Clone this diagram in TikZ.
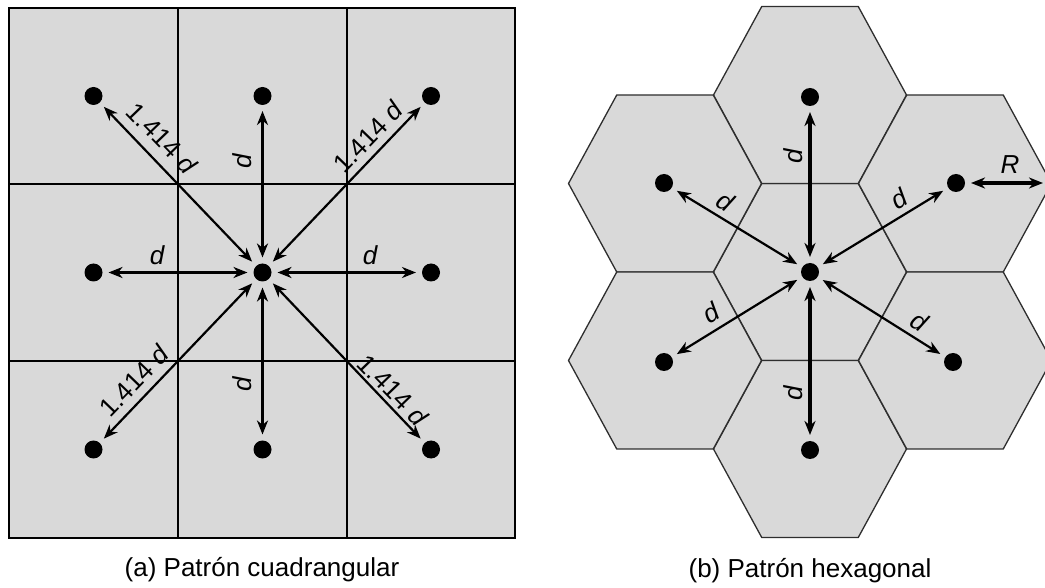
\documentclass[tikz,border=0pt]{standalone}
\usepackage{fontspec}
\setmainfont{Liberation Sans}
\usetikzlibrary{arrows.meta}
\definecolor{cellgrey}{HTML}{D9D9D9}
\definecolor{hexline}{HTML}{2E2E2E}
\begin{document}
\begin{tikzpicture}[x=0.5pt,y=-0.5pt,
  >={Stealth[length=7pt,width=5.5pt,inset=2.2pt]},
  dot/.style={circle,fill=black,minimum size=9pt,inner sep=0pt,outer sep=3pt},
  gridline/.style={line width=1.2pt,black},
  hexcell/.style={fill=cellgrey,draw=hexline,line width=0.65pt,line join=miter},
  axisarrow/.style={<->,line width=1.6pt},
  diagarrow/.style={<->,line width=1.1pt},
  lbl/.style={font=\fontsize{13}{15}\selectfont,inner sep=0pt},
  caption/.style={font=\fontsize{13}{15}\selectfont,inner sep=0pt}]
\useasboundingbox (0,0) rectangle (1045,588);

% ---------- (a) square cells ----------
\fill[cellgrey] (9,8) rectangle (515,538);
\foreach \gx in {178,347} \draw[gridline] (\gx,8) -- (\gx,538);
\foreach \gy in {184,361} \draw[gridline] (9,\gy) -- (515,\gy);
\draw[gridline] (9,8) rectangle (515,538);

\node[dot] (sC)  at (262.5,272.5) {};
\node[dot] (sN)  at (262.5,96) {};
\node[dot] (sS)  at (262.5,449.5) {};
\node[dot] (sW)  at (93.5,272.5) {};
\node[dot] (sE)  at (431,272.5) {};
\node[dot] (sNW) at (93.5,96) {};
\node[dot] (sNE) at (431,96) {};
\node[dot] (sSW) at (93.5,449.5) {};
\node[dot] (sSE) at (431,449.5) {};

\draw[axisarrow] (sC) -- (sN);
\draw[axisarrow] (sC) -- (sS);
\draw[axisarrow] (sC) -- (sW);
\draw[axisarrow] (sC) -- (sE);
\draw[diagarrow] (sC) -- (sNW);
\draw[diagarrow] (sC) -- (sNE);
\draw[diagarrow] (sC) -- (sSW);
\draw[diagarrow] (sC) -- (sSE);

\node[lbl,rotate=90] (lN) at (242,161) {\itshape d};
\node[lbl,rotate=90] (lS) at (242,384) {\itshape d};
\node[lbl] (lW) at (157,255) {\itshape d};
\node[lbl] (lE) at (370,255) {\itshape d};
\node[lbl,rotate=-46] (lNW) at (162,138) {1.414 \textit{d}};
\node[lbl,rotate=46]  (lNE) at (368,137) {1.414 \textit{d}};
\node[lbl,rotate=46]  (lSW) at (134,381) {1.414 \textit{d}};
\node[lbl,rotate=-46] (lSE) at (393,390) {1.414 \textit{d}};

\node[caption] (capA) at (262,570) {(a) Patrón cuadrangular};

% ---------- (b) hexagonal cells ----------
\begin{scope}
\clip (0,0) rectangle (1045,588);
\foreach \cx/\cy in {810/272, 810/95, 810/449, 665/183.5, 955/183.5, 665/360.5, 955/360.5}
  \draw[hexcell] ({\cx-96.5},\cy) -- ({\cx-48.25},{\cy-88.5}) -- ({\cx+48.25},{\cy-88.5})
     -- ({\cx+96.5},\cy) -- ({\cx+48.25},{\cy+88.5}) -- ({\cx-48.25},{\cy+88.5}) -- cycle;
\end{scope}

\node[dot] (hC)  at (810,272) {};
\node[dot] (hN)  at (810,97) {};
\node[dot] (hS)  at (810,450) {};
\node[dot] (hNW) at (664,183) {};
\node[dot] (hNE) at (956,183) {};
\node[dot] (hSW) at (664,362) {};
\node[dot] (hSE) at (953,362) {};
\coordinate (rEnd) at (1043,183);

\draw[axisarrow] (hC) -- (hN);
\draw[axisarrow] (hC) -- (hS);
\draw[diagarrow] (hC) -- (hNW);
\draw[diagarrow] (hC) -- (hNE);
\draw[diagarrow] (hC) -- (hSW);
\draw[diagarrow] (hC) -- (hSE);
\draw[axisarrow] (hNE) -- (rEnd);

\node[lbl,rotate=90]  (mN)  at (793,156) {\itshape d};
\node[lbl,rotate=90]  (mS)  at (793,393) {\itshape d};
\node[lbl,rotate=-31] (mNW) at (725,201) {\itshape d};
\node[lbl,rotate=31]  (mNE) at (899,199) {\itshape d};
\node[lbl,rotate=31]  (mSW) at (711,313) {\itshape d};
\node[lbl,rotate=-31] (mSE) at (919,321) {\itshape d};
\node[lbl] (mR) at (1010,165) {\itshape R};

\node[caption] (capB) at (810,571) {(b) Patrón hexagonal};
\end{tikzpicture}
\end{document}
